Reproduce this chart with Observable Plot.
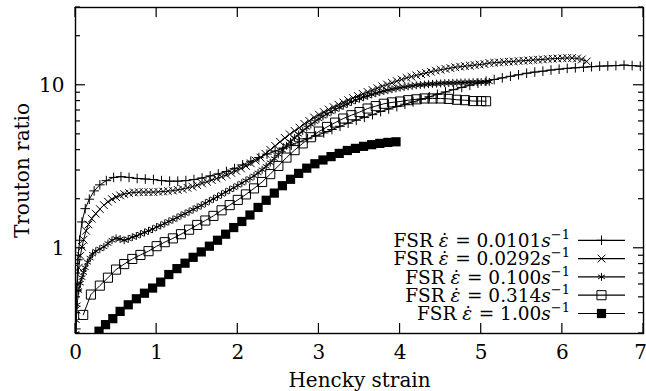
<!DOCTYPE html>
<html><head><meta charset="utf-8">
<script src="https://cdn.jsdelivr.net/npm/d3@7"></script>
<script src="https://cdn.jsdelivr.net/npm/@observablehq/plot@0.6"></script>
<style>body{margin:0;background:#fff} svg{display:block}</style>
</head><body><div id="chart"></div>
<script>
// ---- data ----
const seriesLabels = ["0.0101", "0.0292", "0.100", "0.314", "1.00"];
const seriesSymbols = ["plus", "times", "asterisk", "square2", "square"];

const strain1 = [0.005,0.015,0.03,0.05,0.08,0.12,0.17,0.23,0.3,0.38,0.47,0.56,0.66,0.76,0.86,0.96,1.06,1.16,1.26,1.36,1.46,1.56,1.66,1.76,1.86,1.96,2.06,2.16,2.26,2.36,2.46,2.56,2.66,2.76,2.86,2.96,3.06,3.16,3.26,3.36,3.46,3.56,3.66,3.76,3.86,3.96,4.06,4.16,4.26,4.36,4.46,4.56,4.66,4.76,4.86,4.96,5.06,5.16,5.26,5.36,5.46,5.56,5.66,5.76,5.86,5.96,6.06,6.16,6.26,6.36,6.46,6.56,6.66,6.76,6.86,6.96];
const ratio1 = [0.32,0.55,0.85,1.12,1.45,1.75,2.0,2.25,2.45,2.6,2.72,2.75,2.72,2.68,2.66,2.64,2.6,2.58,2.58,2.6,2.64,2.7,2.78,2.86,2.96,3.08,3.25,3.42,3.6,3.78,3.95,4.12,4.3,4.5,4.7,4.9,5.1,5.35,5.6,5.85,6.1,6.35,6.6,6.9,7.15,7.4,7.65,7.9,8.2,8.5,8.8,9.1,9.4,9.7,10.0,10.3,10.6,10.85,11.1,11.35,11.6,11.85,12.05,12.2,12.4,12.55,12.7,12.8,12.9,13.0,13.1,13.15,13.2,13.3,13.2,13.1];

const strain2 = [0.01,0.02,0.04,0.06,0.08,0.1,0.13,0.16,0.2,0.25,0.3,0.35,0.4,0.45,0.5,0.55,0.6,0.66,0.72,0.78,0.84,0.9,0.96,1.02,1.08,1.14,1.2,1.26,1.32,1.38,1.44,1.5,1.56,1.62,1.68,1.74,1.8,1.86,1.92,1.98,2.04,2.1,2.16,2.22,2.28,2.34,2.4,2.46,2.52,2.58,2.64,2.7,2.76,2.82,2.88,2.94,3.0,3.06,3.12,3.18,3.24,3.3,3.36,3.42,3.48,3.54,3.6,3.66,3.72,3.78,3.84,3.9,3.96,4.02,4.08,4.14,4.2,4.26,4.32,4.38,4.44,4.5,4.56,4.62,4.68,4.74,4.8,4.86,4.92,4.98,5.04,5.1,5.16,5.22,5.28,5.34,5.4,5.46,5.52,5.58,5.64,5.7,5.76,5.82,5.88,5.94,6.0,6.06,6.12,6.18,6.24,6.3];
const ratio2 = [0.42,0.6,0.76,0.9,1.02,1.13,1.28,1.4,1.52,1.63,1.74,1.84,1.93,2.0,2.06,2.11,2.15,2.18,2.2,2.21,2.21,2.21,2.21,2.22,2.23,2.24,2.26,2.28,2.31,2.35,2.39,2.44,2.5,2.56,2.62,2.68,2.75,2.82,2.9,2.99,3.09,3.2,3.32,3.45,3.6,3.8,4.02,4.25,4.5,4.75,5.0,5.25,5.5,5.8,6.05,6.35,6.6,6.85,7.1,7.35,7.6,7.85,8.1,8.35,8.6,8.85,9.1,9.35,9.6,9.85,10.1,10.35,10.6,10.85,11.1,11.3,11.5,11.7,11.9,12.1,12.3,12.45,12.6,12.75,12.9,13.0,13.1,13.2,13.3,13.4,13.5,13.7,13.75,13.8,13.9,13.95,14.0,14.1,14.15,14.2,14.3,14.35,14.4,14.5,14.55,14.6,14.65,14.7,14.7,14.6,14.4,14.0];

const strain3 = [0.005,0.01,0.02,0.04,0.06,0.08,0.1,0.12,0.15,0.18,0.21,0.25,0.3,0.35,0.4,0.45,0.5,0.55,0.6,0.65,0.7,0.75,0.8,0.85,0.9,0.95,1.0,1.05,1.1,1.15,1.2,1.25,1.3,1.35,1.4,1.45,1.5,1.55,1.6,1.65,1.7,1.75,1.8,1.85,1.9,1.95,2.0,2.05,2.1,2.15,2.2,2.25,2.3,2.35,2.4,2.45,2.5,2.55,2.6,2.65,2.7,2.75,2.8,2.85,2.9,2.95,3.0,3.05,3.1,3.15,3.2,3.25,3.3,3.35,3.4,3.45,3.5,3.55,3.6,3.65,3.7,3.75,3.8,3.85,3.9,3.95,4.0,4.05,4.1,4.15,4.2,4.25,4.3,4.35,4.4,4.45,4.5,4.55,4.6,4.65,4.7,4.75,4.8,4.85,4.9,4.95,5.0,5.05,5.1];
const ratio3 = [0.3,0.36,0.45,0.55,0.61,0.66,0.71,0.76,0.82,0.87,0.92,0.96,0.99,1.02,1.07,1.12,1.15,1.14,1.12,1.14,1.17,1.19,1.22,1.25,1.28,1.31,1.35,1.38,1.42,1.46,1.5,1.54,1.59,1.63,1.68,1.73,1.78,1.83,1.89,1.95,2.01,2.07,2.14,2.21,2.28,2.35,2.43,2.51,2.6,2.68,2.78,2.9,3.03,3.18,3.35,3.55,3.77,4.0,4.25,4.5,4.75,5.0,5.25,5.5,5.74,5.98,6.22,6.45,6.67,6.88,7.1,7.3,7.5,7.7,7.9,8.1,8.28,8.45,8.62,8.78,8.93,9.07,9.2,9.33,9.45,9.56,9.66,9.75,9.84,9.92,10.0,10.05,10.1,10.15,10.2,10.23,10.26,10.3,10.32,10.35,10.37,10.4,10.4,10.42,10.44,10.45,10.46,10.47,10.5];

const strain4 = [0.095,0.19,0.3,0.4,0.5,0.6,0.7,0.8,0.9,1.0,1.1,1.2,1.3,1.4,1.5,1.6,1.7,1.8,1.9,2.0,2.1,2.2,2.3,2.4,2.5,2.6,2.7,2.8,2.9,3.0,3.1,3.2,3.3,3.4,3.5,3.6,3.7,3.8,3.9,4.0,4.1,4.2,4.3,4.4,4.5,4.6,4.7,4.8,4.9,5.0,5.06];
const ratio4 = [0.39,0.52,0.59,0.66,0.74,0.8,0.86,0.91,0.96,1.03,1.09,1.15,1.22,1.3,1.39,1.48,1.58,1.71,1.84,1.98,2.14,2.33,2.55,2.85,3.2,3.6,4.0,4.4,4.8,5.2,5.55,5.9,6.25,6.55,6.85,7.2,7.45,7.7,7.85,7.95,8.1,8.2,8.3,8.3,8.3,8.25,8.15,8.1,8.0,8.0,7.98];

const strain5 = [0.29,0.37,0.46,0.55,0.65,0.75,0.85,0.95,1.05,1.15,1.25,1.35,1.45,1.55,1.65,1.75,1.85,1.95,2.05,2.15,2.25,2.35,2.45,2.55,2.65,2.75,2.85,2.95,3.05,3.15,3.25,3.35,3.45,3.55,3.65,3.75,3.85,3.95];
const ratio5 = [0.31,0.34,0.37,0.41,0.45,0.49,0.53,0.57,0.62,0.69,0.75,0.81,0.88,0.95,1.03,1.12,1.22,1.34,1.46,1.6,1.78,1.97,2.18,2.42,2.65,2.88,3.1,3.3,3.48,3.65,3.82,3.98,4.1,4.22,4.32,4.4,4.46,4.5];

const xTicks = [0, 1, 2, 3, 4, 5, 6, 7];
const yMajorTicks = [1, 10];
const yMinorTicks = [0.3, 0.4, 0.5, 0.6, 0.7, 0.8, 0.9, 2, 3, 4, 5, 6, 7, 8, 9, 20, 30];
const xLabel = "Hencky strain";
const yLabel = "Trouton ratio";

// ---- build ----
const strains = [strain1, strain2, strain3, strain4, strain5];
const ratios = [ratio1, ratio2, ratio3, ratio4, ratio5];
const symbolR = [3.2, 3.6, 3.7, 5.8, 5.2];
const FONT = "DejaVu Serif";

const rowsBySeries = strains.map((xs, i) =>
  xs.slice(0, Math.min(xs.length, ratios[i].length)).map((x, j) => ({x, y: ratios[i][j]})));

const marks = [];
rowsBySeries.forEach((rows, i) => {
  marks.push(Plot.line(rows, {x: "x", y: "y", stroke: "black", strokeWidth: 1, clip: true}));
  const filled = seriesSymbols[i] === "square";
  marks.push(Plot.dot(rows, {x: "x", y: "y", symbol: seriesSymbols[i], r: symbolR[i],
    stroke: filled ? "none" : "black", fill: filled ? "black" : "none", strokeWidth: 1, clip: true}));
});

const lastTick = xTicks[xTicks.length - 1];
marks.push(Plot.frame({stroke: "black", strokeWidth: 1.4}));
marks.push(Plot.text(xTicks.filter(d => d !== lastTick), {x: d => d, frameAnchor: "bottom", dy: 19, lineAnchor: "middle", textAnchor: "middle", text: d => String(d)}));
marks.push(Plot.text([lastTick], {x: d => d, frameAnchor: "bottom", dy: 19, dx: -3, lineAnchor: "middle", textAnchor: "middle", text: d => String(d)}));
marks.push(Plot.text(yMajorTicks, {y: d => d, frameAnchor: "left", dx: -11, textAnchor: "end", lineAnchor: "middle", text: d => String(d)}));
marks.push(Plot.text([xLabel], {frameAnchor: "bottom", dy: 47, lineAnchor: "middle", textAnchor: "middle", text: d => d}));
marks.push(Plot.text([yLabel], {frameAnchor: "left", dx: -53, rotate: -90, lineAnchor: "middle", textAnchor: "middle", text: d => d}));

const chart = Plot.plot({
  width: 646, height: 391,
  marginLeft: 75, marginRight: 3, marginTop: 7, marginBottom: 58,
  style: {fontFamily: FONT, fontSize: "20px", color: "black", background: "white"},
  x: {domain: [0, 7], axis: null},
  y: {type: "log", domain: [0.3, 30], axis: null},
  marks
});
document.getElementById("chart").appendChild(chart);

// ---- inward tick marks on all four sides, via the plot's scales ----
const X = chart.scale("x"), Y = chart.scale("y");
const xl = X.apply(0), xr = X.apply(7), yb = Y.apply(0.3), yt = Y.apply(30);
const svg = d3.select(chart);
const tg = svg.append("g").attr("stroke", "black").attr("stroke-width", 1.2);
const seg = (a, b, c, d) => tg.append("line").attr("x1", a).attr("y1", b).attr("x2", c).attr("y2", d);
xTicks.forEach(v => { const p = X.apply(v); seg(p, yb, p, yb - 10); seg(p, yt, p, yt + 10); });
yMajorTicks.forEach(v => { const p = Y.apply(v); seg(xl, p, xl + 10, p); seg(xr, p, xr - 10, p); });
yMinorTicks.forEach(v => { const p = Y.apply(v); seg(xl, p, xl + 5, p); seg(xr, p, xr - 5, p); });

// ---- key (inside the frame, lower right) ----
const d3Sym = {plus: d3.symbolPlus, times: d3.symbolTimes, asterisk: d3.symbolAsterisk, square2: d3.symbolSquare2, square: d3.symbolSquare};
const lg = svg.append("g").attr("font-family", FONT).attr("font-size", 18.5);
const keyRight = xr - 73, lineX1 = xr - 65, lineX2 = xr - 18, markX = (lineX1 + lineX2) / 2;
seriesLabels.forEach((lab, i) => {
  const yy = yb - 19.5 - (seriesLabels.length - 1 - i) * 18.3;
  const t = lg.append("text").attr("x", keyRight).attr("y", yy).attr("dy", "0.36em").attr("text-anchor", "end");
  t.append("tspan").text("FSR ");
  t.append("tspan").attr("font-style", "italic").text("\u03B5");
  t.append("tspan").attr("dx", "-0.47em").text("\u02D9");
  t.append("tspan").text(" = " + lab);
  t.append("tspan").attr("font-style", "italic").text("s");
  t.append("tspan").attr("font-size", 13).attr("dy", "-0.6em").text("\u22121");
  lg.append("line").attr("x1", lineX1).attr("x2", lineX2).attr("y1", yy).attr("y2", yy).attr("stroke", "black").attr("stroke-width", 1.2);
  const filled = seriesSymbols[i] === "square";
  lg.append("path").attr("transform", `translate(${markX},${yy})`)
    .attr("d", d3.symbol().type(d3Sym[seriesSymbols[i]]).size(Math.PI * symbolR[i] * symbolR[i])())
    .attr("fill", filled ? "black" : "none").attr("stroke", filled ? "none" : "black").attr("stroke-width", 1);
});
</script>
</body></html>
